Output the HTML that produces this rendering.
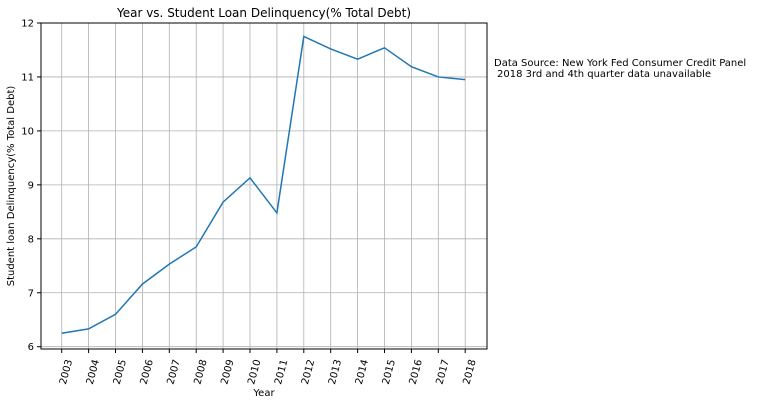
<!DOCTYPE html>
<html><head><meta charset="utf-8"><style>
body{margin:0;background:#fff;width:758px;height:404px;overflow:hidden}
svg text{font-family:"DejaVu Sans","Liberation Sans",sans-serif;fill:#000}
</style></head><body>
<svg id="chart" width="758" height="404" xmlns="http://www.w3.org/2000/svg">
<text x="264" y="17" font-size="12" text-anchor="middle">Year vs. Student Loan Delinquency(% Total Debt)</text>
<g id="grid"></g>
<g id="ticks"></g>
<path id="line" fill="none" stroke="#1f77b4" stroke-width="1.5"/>
<rect x="41" y="23" width="446" height="326" fill="none" stroke="#000" stroke-width="1"/>
<text x="264" y="396" font-size="10" text-anchor="middle">Year</text>
<text transform="translate(14,186) rotate(-90)" font-size="10" text-anchor="middle">Student loan Delinquency(% Total Debt)</text>
<text x="494" y="66" font-size="10">Data Source: New York Fed Consumer Credit Panel</text>
<text x="497" y="77" font-size="10">2018 3rd and 4th quarter data unavailable</text>
</svg>
<script>
const years=[2003,2004,2005,2006,2007,2008,2009,2010,2011,2012,2013,2014,2015,2016,2017,2018];
const values=[6.25,6.33,6.6,7.16,7.53,7.85,8.68,9.13,8.48,11.75,11.52,11.33,11.54,11.19,11.0,10.95];
const yTicks=[6,7,8,9,10,11,12];
const NS="http://www.w3.org/2000/svg";
const xs=i=>61.7+i*26.9;
const ys=v=>346.7-(v-6)*53.95;
const grid=document.getElementById('grid'),ticks=document.getElementById('ticks');
function mk(tag,attrs,parent){const e=document.createElementNS(NS,tag);for(const k in attrs)e.setAttribute(k,attrs[k]);parent.appendChild(e);return e;}
years.forEach((y,i)=>{
 const x=xs(i);
 const g=mk('line',{x1:x,x2:x,y1:23,y2:349,stroke:'#b0b0b0','stroke-width':0.8},grid);
 
 
 const t=mk('line',{x1:x,x2:x,y1:349,y2:353,stroke:'#000'},ticks);
 
 
 const l=mk('text',{transform:`translate(${x+4},385) rotate(-75)`,'font-size':10},ticks);
 l.textContent=y;
 
 
});
yTicks.forEach(v=>{
 const y=ys(v);
 const g=mk('line',{x1:41,x2:487,y1:y,y2:y,stroke:'#b0b0b0','stroke-width':0.8},grid);
 
 
 const t=mk('line',{x1:37,x2:41,y1:y,y2:y,stroke:'#000'},ticks);
 
 
 const l=mk('text',{x:34,y:y+3.5,'font-size':10,'text-anchor':'end'},ticks);
 l.textContent=v;
 
 
});
document.getElementById('line').setAttribute('d',values.map((v,i)=>(i?'L':'M')+xs(i)+','+ys(v)).join(''));
</script>
</body></html>
